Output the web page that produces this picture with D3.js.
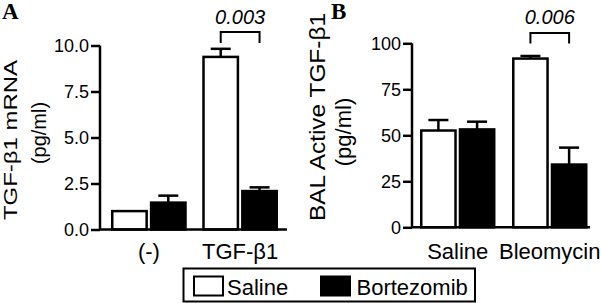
<!DOCTYPE html>
<html><head><meta charset="utf-8">
<script src="https://cdn.jsdelivr.net/npm/d3@7"></script>
<style>body{margin:0;background:#fff}svg{display:block}</style>
</head><body>
<script>
// ---- data ----
const seriesNames = ["Saline", "Bortezomib"];
const catsA = ["(-)", "TGF-β1"];
const salineA = [1.0, 9.38];
const salineSemA = [0, 0.44];
const bortA = [1.46, 2.09];
const bortSemA = [0.38, 0.20];
const ticksA = [0, 2.5, 5, 7.5, 10];
const pA = "0.003";

const catsB = ["Saline", "Bleomycin"];
const salineB = [52.6, 91.7];
const salineSemB = [5.7, 1.4];
const bortB = [53.2, 34.1];
const bortSemB = [4.2, 9.2];
const ticksB = [0, 25, 50, 75, 100];
const pB = "0.006";

const W = 601, H = 303;
const svg = d3.select("body").append("svg").attr("width", W).attr("height", H);
const font = "'Liberation Sans', Arial, Helvetica, sans-serif";
const fills = {Saline: "#fff", Bortezomib: "#000"};

function panel(opt) {
  const g = svg.append("g");
  const y = d3.scaleLinear().domain(opt.domain).range(opt.yRange);
  const x0 = d3.scaleBand().domain(opt.cats).range(opt.barRange).paddingInner(opt.pad).paddingOuter(0);
  const x1 = d3.scaleBand().domain(seriesNames).range([0, x0.bandwidth()]).paddingInner(0.05);
  const rows = [];
  opt.cats.forEach((c, i) => {
    rows.push({c, s: "Saline", v: opt.sal[i], e: opt.salE[i]});
    rows.push({c, s: "Bortezomib", v: opt.bor[i], e: opt.borE[i]});
  });
  rows.filter(d => d.e > 0).forEach(d => {
    const cx = x0(d.c) + x1(d.s) + x1.bandwidth() / 2;
    g.append("line").attr("x1", cx).attr("x2", cx).attr("y1", y(d.v)).attr("y2", y(d.v + d.e))
      .attr("stroke", "#000").attr("stroke-width", 2.5);
    g.append("line").attr("x1", cx - 10).attr("x2", cx + 10).attr("y1", y(d.v + d.e)).attr("y2", y(d.v + d.e))
      .attr("stroke", "#000").attr("stroke-width", 2.5);
  });
  g.selectAll("rect.bar").data(rows).join("rect").attr("class", "bar")
    .attr("x", d => x0(d.c) + x1(d.s) + 1.25)
    .attr("width", x1.bandwidth() - 2.5)
    .attr("y", d => y(d.v))
    .attr("height", d => y(0) - y(d.v))
    .attr("fill", d => fills[d.s]).attr("stroke", "#000").attr("stroke-width", 2.5);
  const ax = g.append("g").attr("transform", `translate(${opt.axisX},0)`)
    .call(d3.axisLeft(y).tickValues(opt.ticks).tickFormat(opt.fmt).tickSize(9).tickPadding(2));
  ax.select(".domain").attr("d", `M0,${y(opt.domain[1])}V${y(0)}`).attr("stroke-width", 2.5);
  ax.selectAll(".tick line").attr("stroke-width", 2.5);
  ax.selectAll(".tick text").attr("font-family", font).attr("font-size", 18).attr("fill", "#000");
  g.append("line").attr("x1", opt.axisX).attr("x2", opt.xEnd).attr("y1", y(0)).attr("y2", y(0))
    .attr("stroke", "#000").attr("stroke-width", 2.5);
  g.selectAll("text.cat").data(opt.cats).join("text").attr("class", "cat")
    .attr("x", d => x0(d) + x0.bandwidth() / 2).attr("y", opt.catY)
    .attr("text-anchor", "middle").attr("font-family", font).attr("font-size", 22).text(d => d);
  const c = opt.cats[1];
  const bx1 = x0(c) + x1("Saline") + x1.bandwidth() / 2;
  const bx2 = x0(c) + x1("Bortezomib") + x1.bandwidth() / 2;
  g.append("path").attr("d", `M${bx1},${opt.brBot}V${opt.brTop}H${bx2}V${opt.brBot}`)
    .attr("fill", "none").attr("stroke", "#000").attr("stroke-width", 2);
  g.append("text").attr("x", (bx1 + bx2) / 2).attr("y", opt.pY).attr("text-anchor", "middle")
    .attr("font-family", font).attr("font-size", 20).attr("font-style", "italic").text(opt.p);
  opt.titles.forEach(t => {
    const tt = g.append("text").attr("transform", `translate(${t.x},${t.y}) rotate(-90)`)
      .attr("text-anchor", "middle").attr("font-family", font).attr("font-size", t.fs).text(t.text);
    if (t.len) tt.attr("textLength", t.len).attr("lengthAdjust", "spacingAndGlyphs");
  });
  svg.append("text").attr("x", opt.letterX).attr("y", 19).attr("font-family", "'Liberation Serif', 'Times New Roman', serif")
    .attr("font-weight", "bold").attr("font-size", 23).text(opt.letter);
}

panel({
  domain: [0, 10], yRange: [229.5, 45.5], cats: catsA, barRange: [111, 278], pad: 0.17,
  sal: salineA, salE: salineSemA, bor: bortA, borE: bortSemA, ticks: ticksA, fmt: d3.format(".1f"),
  axisX: 100, xEnd: 287, catY: 258.5, brTop: 32, brBot: 43, pY: 23.5, p: pA,
  titles: [{x: 16.5, y: 140, fs: 19, text: "TGF-β1 mRNA", len: 160}, {x: 45.5, y: 133, fs: 20, text: "(pg/ml)"}],
  letter: "A", letterX: 2
});
panel({
  domain: [0, 100], yRange: [227.3, 43.3], cats: catsB, barRange: [420, 587.5], pad: 0.18,
  sal: salineB, salE: salineSemB, bor: bortB, borE: bortSemB, ticks: ticksB, fmt: d3.format("d"),
  axisX: 412, xEnd: 590, catY: 258.5, brTop: 33, brBot: 43.5, pY: 23.5, p: pB,
  titles: [{x: 325, y: 117, fs: 22, text: "BAL Active TGF-β1", len: 208}, {x: 350.5, y: 132, fs: 22, text: "(pg/ml)"}],
  letter: "B", letterX: 331
});

const lg = svg.append("g");
lg.append("rect").attr("x", 183.5).attr("y", 268.5).attr("width", 291.5).attr("height", 33)
  .attr("fill", "#fff").attr("stroke", "#000").attr("stroke-width", 2);
const legX = [{s: "Saline", sx: 194, tx: 227}, {s: "Bortezomib", sx: 321, tx: 356.5}];
legX.forEach(l => {
  lg.append("rect").attr("x", l.sx).attr("y", 276.5).attr("width", 29).attr("height", 19)
    .attr("fill", fills[l.s]).attr("stroke", "#000").attr("stroke-width", 2);
  lg.append("text").attr("x", l.tx).attr("y", 295).attr("font-family", font).attr("font-size", 22).text(l.s);
});
</script>
</body></html>
